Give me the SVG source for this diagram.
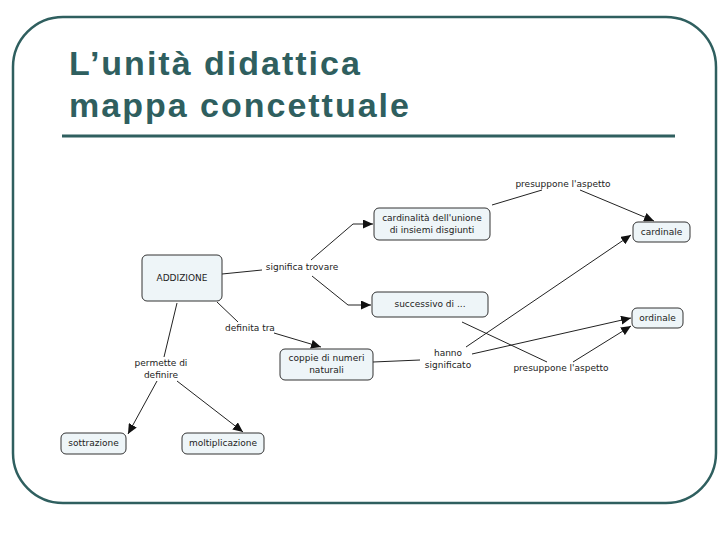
<svg xmlns="http://www.w3.org/2000/svg" width="728" height="546" viewBox="0 0 728 546">
<style>
.frame{fill:none;stroke:#2f5f5f;stroke-width:2.5}
.title{font-family:"Liberation Sans",Arial,sans-serif;font-weight:bold;font-size:34px;letter-spacing:2px;fill:#2f5f5f}
.node rect{fill:#eef5f8;stroke:#333;stroke-width:1}
text.t{font-family:"DejaVu Sans",Verdana,sans-serif;font-size:9px;fill:#222;text-anchor:middle}
.edges path{fill:none;stroke:#222;stroke-width:1}
.edges path.a{marker-end:url(#arr)}
</style>
<defs>
<marker id="arr" markerUnits="userSpaceOnUse" markerWidth="11" markerHeight="9" refX="10" refY="4.5" orient="auto">
<path d="M0,0 L10,4.5 L0,9 z" fill="#111"/>
</marker>
</defs>
<rect width="728" height="546" fill="#fff"/>
<rect class="frame" x="13" y="17" width="703" height="486" rx="50" ry="50"/>
<text class="title" x="69" y="75">L’unità didattica</text>
<text class="title" x="69" y="117">mappa concettuale</text>
<line x1="62" y1="136" x2="675" y2="136" stroke="#2f5f5f" stroke-width="3"/>

<g class="edges" id="connectors">
<path d="M222,274 L262,270"/>
<path class="a" d="M311,260 L353,224 L373,224"/>
<path class="a" d="M312,276 L348,305 L371,305"/>
<path d="M217,302 L238,322"/>
<path class="a" d="M274,333 L321,347"/>
<path d="M177,303 L164,357"/>
<path class="a" d="M157,381 L128,434"/>
<path class="a" d="M177,381 L243,432"/>
<path d="M373,362 L420,360"/>
<path class="a" d="M466,347 L631,235"/>
<path class="a" d="M472,354 L631,318"/>
<path d="M492,205 L542,190"/>
<path class="a" d="M580,190 L654,221"/>
<path d="M462,322 L547,362"/>
<path class="a" d="M573,362 L631,326"/>
</g>

<g class="node" id="addizione"><rect x="142" y="255" width="80" height="46" rx="5"/><text class="t" x="182" y="281">ADDIZIONE</text></g>
<g class="node" id="cardinalita"><rect x="374" y="208" width="116" height="32" rx="5"/><text class="t" x="432" y="221">cardinalità dell'unione</text><text class="t" x="432" y="233">di insiemi disgiunti</text></g>
<g class="node" id="successivo"><rect x="372" y="292" width="116" height="25" rx="5"/><text class="t" x="430" y="307">successivo di ...</text></g>
<g class="node" id="coppie"><rect x="280" y="349" width="93" height="31" rx="5"/><text class="t" x="326.5" y="361">coppie di numeri</text><text class="t" x="326.5" y="373">naturali</text></g>
<g class="node" id="cardinale"><rect x="633" y="222" width="57" height="20" rx="5"/><text class="t" x="661.5" y="235">cardinale</text></g>
<g class="node" id="ordinale"><rect x="632" y="308" width="51" height="20" rx="5"/><text class="t" x="657.5" y="321">ordinale</text></g>
<g class="node" id="sottrazione"><rect x="61" y="433" width="65" height="21" rx="5"/><text class="t" x="93.5" y="446">sottrazione</text></g>
<g class="node" id="moltiplicazione"><rect x="182" y="433" width="82" height="21" rx="5"/><text class="t" x="223" y="446">moltiplicazione</text></g>

<g id="lbl-significa"><text class="t" x="302" y="270">significa trovare</text></g>
<g id="lbl-definita"><text class="t" x="250" y="331">definita tra</text></g>
<g id="lbl-permette"><text class="t" x="161" y="366">permette di</text><text class="t" x="161" y="378">definire</text></g>
<g id="lbl-hanno"><text class="t" x="448" y="356">hanno</text><text class="t" x="448" y="368">significato</text></g>
<g id="lbl-presuppone1"><text class="t" x="563" y="187">presuppone l'aspetto</text></g>
<g id="lbl-presuppone2"><text class="t" x="561" y="371">presuppone l'aspetto</text></g>
</svg>
